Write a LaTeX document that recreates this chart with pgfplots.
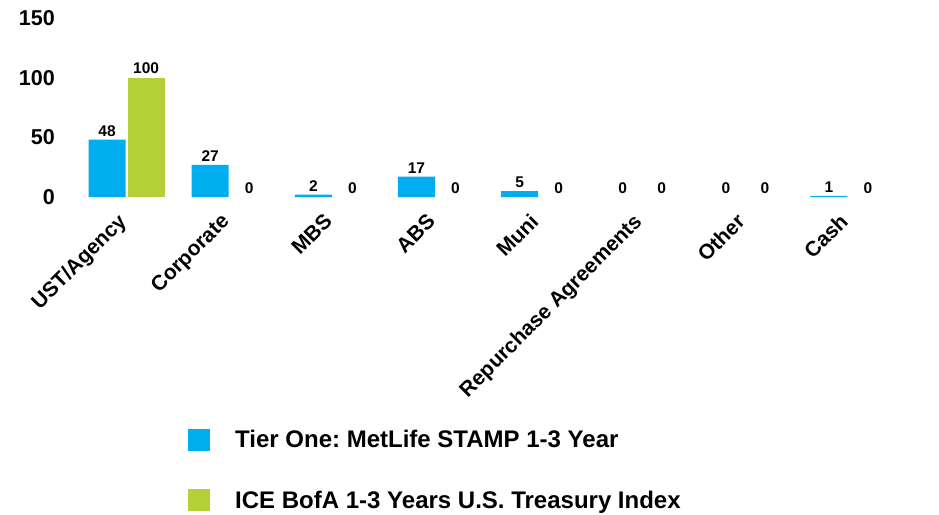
\documentclass[border=0pt]{standalone}
\usepackage{fontspec}
\setmainfont{Liberation Sans}
\usepackage{pgfplots}
\pgfplotsset{compat=1.18}
\definecolor{stampblue}{RGB}{0,174,239}
\definecolor{icegreen}{RGB}{180,210,55}
\frenchspacing

\begin{document}
\begin{tikzpicture}
\useasboundingbox (0pt,0pt) rectangle (939pt,514pt);
\begin{axis}[
  at={(75pt,317pt)}, anchor=south west,
  scale only axis, width=825pt, height=179pt,
  ybar, bar width=37pt,
  xmin=-0.5, xmax=7.5, ymin=0, ymax=150,
  xtick={0,...,7},
  xticklabels={UST/Agency,Corporate,MBS,ABS,Muni,Repurchase Agreements,Other,Cash},
  ytick={0,50,100,150},
  axis line style={draw=none}, tick style={draw=none}, major tick length=0pt,
  /pgf/number format/assume math mode=true,
  yticklabel style={font=\fontsize{21.5}{24}\selectfont\bfseries, anchor=east, inner sep=0pt, xshift=-20pt},
  xticklabel style={font=\fontsize{21}{24}\selectfont\bfseries, anchor=north east, inner sep=0pt, xshift=-10pt, yshift=-15pt, rotate=45},
  nodes near coords,
  every node near coord/.append style={font=\fontsize{15.5}{17}\selectfont\bfseries, black},
  legend style={at={(0.137,-1.29)}, anchor=north west, draw=none, inner sep=0pt,
    font=\fontsize{24}{28}\selectfont\bfseries, row sep=38pt,
    /tikz/every odd column/.append style={column sep=23pt}},
  legend cell align=left,
  legend image code/.code={\fill[#1] (0pt,-11pt) rectangle (22pt,11pt);},
]
% bars with a value
\addplot[fill=stampblue, draw=none, bar shift=-19.5pt] coordinates {(0,48) (1,27) (2,2) (3,17) (4,5) (7,1)};
\addplot[fill=icegreen, draw=none, bar shift=19.5pt] coordinates {(0,100)};
% zero values: label only
\addplot[fill=none, draw=none, bar shift=-19.5pt, forget plot] coordinates {(5,0) (6,0)};
\addplot[fill=none, draw=none, bar shift=19.5pt, forget plot] coordinates {(1,0) (2,0) (3,0) (4,0) (5,0) (6,0) (7,0)};
\legend{Tier One: MetLife STAMP 1-3 Year, ICE BofA 1-3 Years U.S. Treasury Index}
\end{axis}
\end{tikzpicture}
\end{document}
